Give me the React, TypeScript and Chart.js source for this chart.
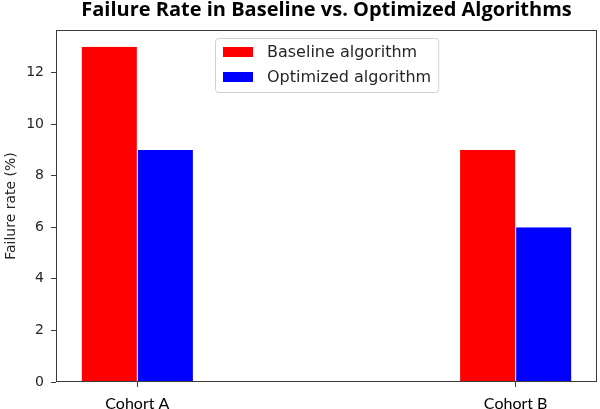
import React, { useEffect, useRef } from "react";
import { Chart, registerables } from "chart.js";

Chart.register(...registerables);

const categories = ["Cohort A", "Cohort B"];
const seriesNames = ["Baseline algorithm", "Optimized algorithm"];
const baseline = [13, 9];
const optimized = [9, 6];
const yTicks = [0, 2, 4, 6, 8, 10, 12];
const colors = ["#ff0000", "#0000ff"];

const frameAndLegend = {
  id: "frameAndLegend",
  afterDatasetsDraw(chart: any) {
    const { ctx, chartArea } = chart;
    const { left, top, right, bottom } = chartArea;
    ctx.save();
    ctx.strokeStyle = "#3a3a3a";
    ctx.lineWidth = 1;
    ctx.strokeRect(Math.round(left) + 0.5, Math.round(top) + 0.5, Math.round(right - left) - 1, Math.round(bottom - top) - 1);

    // legend inside plot (upper center)
    ctx.font = "16px 'DejaVu Sans'";
    const labels = chart.data.datasets.map((d: any) => d.label);
    const textW = Math.max(...labels.map((l: string) => ctx.measureText(l).width));
    const padL = 8, sw = 30, gap = 14, padR = 7;
    const boxW = padL + sw + gap + textW + padR;
    const boxH = 54;
    const bx = Math.round((left + right) / 2 - boxW / 2);
    const by = Math.round(top + 8);
    ctx.fillStyle = "rgba(255,255,255,0.85)";
    ctx.strokeStyle = "#d0d0d0";
    ctx.beginPath();
    (ctx as any).roundRect(bx + 0.5, by + 0.5, boxW, boxH, 3);
    ctx.fill();
    ctx.stroke();
    ctx.textBaseline = "middle";
    ctx.textAlign = "left";
    chart.data.datasets.forEach((d: any, i: number) => {
      const cy = by + 14 + i * 25;
      ctx.fillStyle = d.backgroundColor;
      ctx.fillRect(bx + padL, cy - 5, sw, 10);
      ctx.fillStyle = "#262626";
      ctx.fillText(d.label, bx + padL + sw + gap, cy + 1);
    });
    ctx.restore();
  },
};

export default function App() {
  const ref = useRef<HTMLCanvasElement>(null);
  useEffect(() => {
    document.body.style.margin = "0";
    const series = [baseline, optimized];
    const chart = new Chart(ref.current!, {
      type: "bar",
      data: {
        datasets: series.map((vals, si) => ({
          label: seriesNames[si],
          data: vals.map((v, i) => ({ x: i, y: v })),
          backgroundColor: colors[si],
          borderColor: "rgba(255,255,255,0.8)",
          borderWidth: { left: 0.5, right: 0.5, top: 0, bottom: 0 },
          categoryPercentage: 0.2963,
          barPercentage: 1,
        })),
      },
      options: {
        animation: false,
        responsive: false,
        maintainAspectRatio: false,
        layout: { padding: { right: 3, left: 0, top: 0, bottom: 0 } },
        plugins: {
          legend: { display: false },
          tooltip: { enabled: false },
          title: {
            display: true,
            fullSize: false,
            text: "Failure Rate in Baseline vs. Optimized Algorithms",
            font: { family: "'Open Sans'", size: 20, weight: "bold", lineHeight: 1 },
            color: "#000",
            padding: { top: 0, bottom: 10 },
            align: "center",
          },
        },
        scales: {
          x: {
            type: "linear",
            offset: false,
            min: -0.215,
            max: 1.215,
            afterBuildTicks: (scale: any) => {
              scale.ticks = categories.map((_, i) => ({ value: i }));
            },
            afterFit: (scale: any) => {
              scale.height = 27;
            },
            ticks: {
              callback: (v: any) => categories[v as number] ?? "",
              font: { family: "Lato", size: 16 },
              color: "#000",
              padding: 7,
              maxRotation: 0,
              autoSkip: false,
            },
            grid: { display: true, drawOnChartArea: false, tickLength: 5, color: "#3a3a3a", offset: false },
            border: { display: false },
          },
          y: {
            min: 0,
            max: 13.65,
            afterBuildTicks: (scale: any) => {
              scale.ticks = yTicks.map((v) => ({ value: v }));
            },
            afterFit: (scale: any) => {
              scale.width = 56;
            },
            ticks: {
              font: { family: "DejaVu Sans", size: 14 },
              color: "#262626",
              padding: 7,
            },
            grid: { display: true, drawOnChartArea: false, tickLength: 5, color: "#3a3a3a" },
            border: { display: false },
            title: {
              display: true,
              text: "Failure rate (%)",
              font: { family: "DejaVu Sans", size: 14 },
              color: "#262626",
              padding: { top: 3, bottom: 0 },
            },
          },
        },
      },
      plugins: [frameAndLegend],
    } as any);
    return () => chart.destroy();
  }, []);
  return (
    <div style={{ width: 600, height: 409 }}>
      <canvas ref={ref} width={600} height={409} style={{ display: "block" }} />
    </div>
  );
}
